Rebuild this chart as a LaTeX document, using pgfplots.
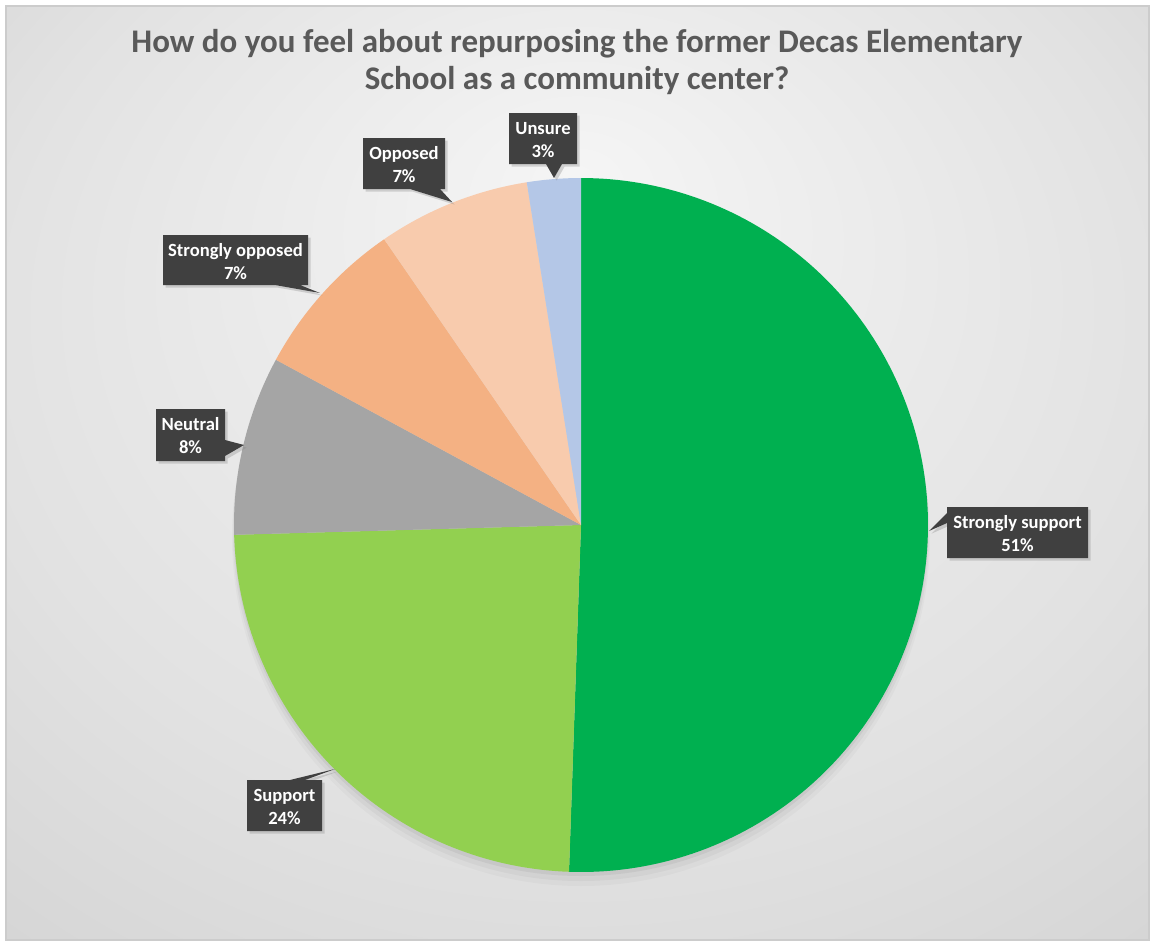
\documentclass[border=0pt]{standalone}
\usepackage{pgfplots}
\pgfplotsset{compat=1.18}
\usepackage{fontspec}
\setmainfont{Carlito}
\usetikzlibrary{shadows}
\definecolor{cSS}{HTML}{00B050}
\definecolor{cS}{HTML}{92D050}
\definecolor{cN}{HTML}{A5A5A5}
\definecolor{cSO}{HTML}{F4B183}
\definecolor{cO}{HTML}{F8CBAD}
\definecolor{cU}{HTML}{B4C7E7}
\definecolor{boxc}{HTML}{404040}
\definecolor{titlec}{HTML}{595959}
\definecolor{bgin}{HTML}{F5F5F5}
\definecolor{bgmid}{HTML}{E2E2E2}
\definecolor{bgout}{HTML}{CACACA}
\pgfdeclareradialshading{bgshade}{\pgfpoint{0bp}{16bp}}{color(0bp)=(bgin); color(26bp)=(bgmid); color(50bp)=(bgout)}
% survey shares (percent)
\def\vSS{50.55}\def\vS{24.0}\def\vN{8.35}\def\vSO{7.5}\def\vO{7.1}\def\vU{2.5}
\begin{document}
\begin{tikzpicture}
\pgfmathsetmacro{\bA}{3.6*\vSS}
\pgfmathsetmacro{\bB}{\bA+3.6*\vS}
\pgfmathsetmacro{\bC}{\bB+3.6*\vN}
\pgfmathsetmacro{\bD}{\bC+3.6*\vSO}
\pgfmathsetmacro{\bE}{\bD+3.6*\vO}
\pgfmathsetmacro{\bF}{\bE+3.6*\vU}
\begin{axis}[x=0.5pt,y=0.5pt,xmin=0,xmax=1153,ymin=0,ymax=943,y dir=reverse,
  hide axis,scale only axis,clip=false]
\coordinate (TL) at (axis cs:0,0);
\coordinate (BR) at (axis cs:1153,943);
\fill[white] (axis cs:0,0) rectangle (axis cs:1153,943);
\shade[shading=bgshade] (axis cs:6,6) rectangle (axis cs:1149,940);
\draw[color=black!20, line width=0.6pt] (axis cs:6,6) rectangle (axis cs:1149,940);
% soft shadow under pie
\fill[black,opacity=0.025] (axis cs:581,537) circle[radius=349];
\fill[black,opacity=0.035] (axis cs:581,533) circle[radius=348];
\fill[black,opacity=0.05] (axis cs:581,529) circle[radius=347];
% pie slices
\addplot[fill=cSS, draw=none, domain=0:\bA, samples=150, variable=\t] ({581+347*sin(\t)},{525-347*cos(\t)}) -- (axis cs:581,525) -- cycle;
\addplot[fill=cS, draw=none, domain=\bA:\bB, samples=80, variable=\t] ({581+347*sin(\t)},{525-347*cos(\t)}) -- (axis cs:581,525) -- cycle;
\addplot[fill=cN, draw=none, domain=\bB:\bC, samples=40, variable=\t] ({581+347*sin(\t)},{525-347*cos(\t)}) -- (axis cs:581,525) -- cycle;
\addplot[fill=cSO, draw=none, domain=\bC:\bD, samples=40, variable=\t] ({581+347*sin(\t)},{525-347*cos(\t)}) -- (axis cs:581,525) -- cycle;
\addplot[fill=cO, draw=none, domain=\bD:\bE, samples=40, variable=\t] ({581+347*sin(\t)},{525-347*cos(\t)}) -- (axis cs:581,525) -- cycle;
\addplot[fill=cU, draw=none, domain=\bE:\bF, samples=20, variable=\t] ({581+347*sin(\t)},{525-347*cos(\t)}) -- (axis cs:581,525) -- cycle;
% title
\node[anchor=base, text=titlec, font=\bfseries\fontsize{16.5}{20}\selectfont] at (axis cs:577,52) {How do you feel about repurposing the former Decas Elementary};
\node[anchor=base, text=titlec, font=\bfseries\fontsize{16.5}{20}\selectfont] at (axis cs:577,89) {School as a community center?};
% callouts
\tikzset{callout/.style={fill=boxc, drop shadow={shadow xshift=1.3pt,shadow yshift=-1.3pt,opacity=0.3}},
  lbl/.style={anchor=base, text=white, font=\bfseries\fontsize{9.3}{11}\selectfont}}
% Strongly support
\fill[callout] (axis cs:947,507) -- (axis cs:1088,507) -- (axis cs:1088,558) -- (axis cs:947,558) -- (axis cs:947,523) -- (axis cs:929,531) -- (axis cs:947,513) -- cycle;
\node[lbl] at (axis cs:1017.5,528) {Strongly support};
\node[lbl] at (axis cs:1017.5,551) {51\%};
% Support
\fill[callout] (axis cs:247,780) -- (axis cs:290,780) -- (axis cs:335,769) -- (axis cs:305,780) -- (axis cs:322,780) -- (axis cs:322,831) -- (axis cs:247,831) -- cycle;
\node[lbl] at (axis cs:284.5,801) {Support};
\node[lbl] at (axis cs:284.5,824) {24\%};
% Neutral
\fill[callout] (axis cs:156,409) -- (axis cs:225,409) -- (axis cs:225,440) -- (axis cs:244,445) -- (axis cs:225,456) -- (axis cs:225,461) -- (axis cs:156,461) -- cycle;
\node[lbl] at (axis cs:190.5,430) {Neutral};
\node[lbl] at (axis cs:190.5,453) {8\%};
% Strongly opposed
\fill[callout] (axis cs:163,235) -- (axis cs:308,235) -- (axis cs:308,285) -- (axis cs:300,285) -- (axis cs:320,293) -- (axis cs:275,285) -- (axis cs:163,285) -- cycle;
\node[lbl] at (axis cs:235.5,256) {Strongly opposed};
\node[lbl] at (axis cs:235.5,279) {7\%};
% Opposed
\fill[callout] (axis cs:363,138) -- (axis cs:445,138) -- (axis cs:445,189) -- (axis cs:440,189) -- (axis cs:452,202) -- (axis cs:410,189) -- (axis cs:363,189) -- cycle;
\node[lbl] at (axis cs:404,159) {Opposed};
\node[lbl] at (axis cs:404,182) {7\%};
% Unsure
\fill[callout] (axis cs:509,113) -- (axis cs:577,113) -- (axis cs:577,164) -- (axis cs:562,164) -- (axis cs:554,178) -- (axis cs:546,164) -- (axis cs:509,164) -- cycle;
\node[lbl] at (axis cs:543,134) {Unsure};
\node[lbl] at (axis cs:543,157) {3\%};
\end{axis}
\pgfresetboundingbox
\path[use as bounding box] (TL) rectangle (BR);
\end{tikzpicture}
\end{document}
